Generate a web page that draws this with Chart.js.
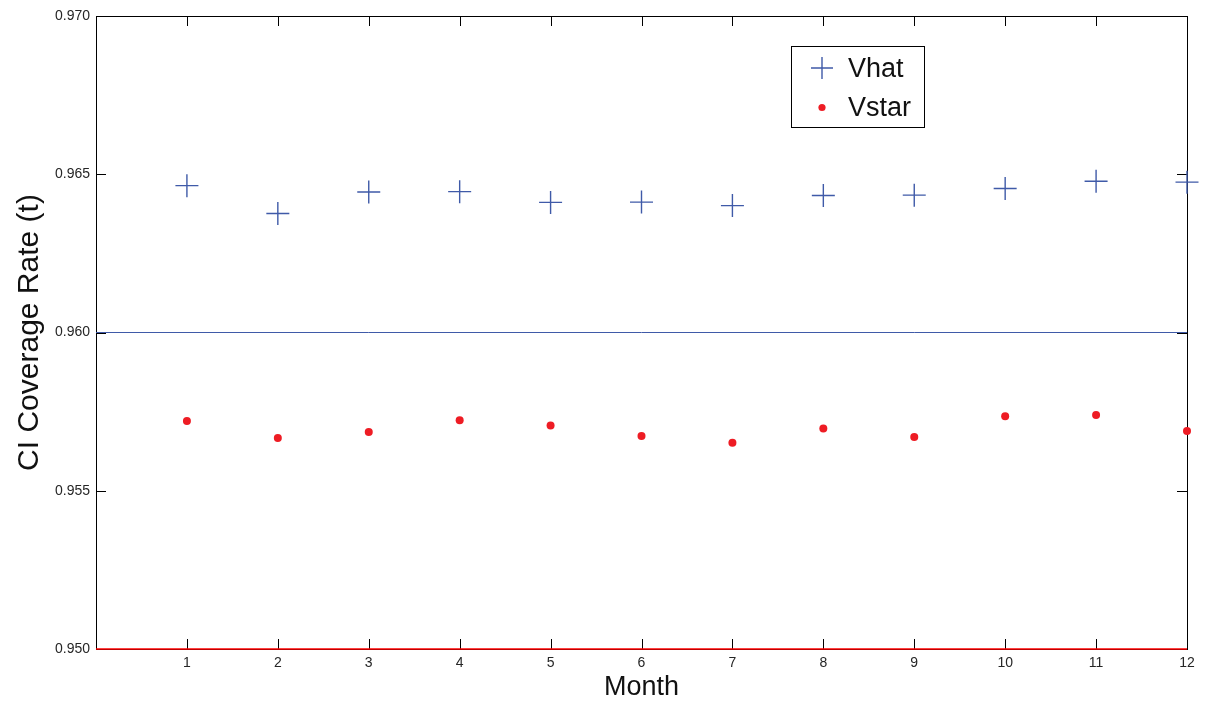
<!DOCTYPE html>
<html>
<head>
<meta charset="utf-8">
<script src="https://cdn.jsdelivr.net/npm/chart.js@4"></script>
<style>
  html, body { margin: 0; padding: 0; background: #ffffff; }
  #wrap { width: 1214px; height: 704px; }
</style>
</head>
<body>
<div id="wrap"><canvas id="c" width="1214" height="704"></canvas></div>
<script>
const months = [1, 2, 3, 4, 5, 6, 7, 8, 9, 10, 11, 12];
const vhat = [0.96464, 0.96376, 0.96444, 0.96445, 0.96411, 0.96412, 0.96401, 0.96433, 0.96434, 0.96455, 0.96478, 0.96475];
const vstar = [0.95720, 0.95667, 0.95686, 0.95723, 0.95706, 0.95673, 0.95652, 0.95697, 0.95670, 0.95735, 0.95739, 0.95689];
const refLevels = [0.960, 0.950];
const xRange = [0, 12];
const yRange = [0.950, 0.970];
const yStep = 0.005;

const BLUE = '#3f5aa8';
const RED = '#ee1c24';
const FONT = '"Liberation Sans", Arial, Helvetica, sans-serif';

const pts = (xs, ys) => xs.map((x, i) => ({ x: x, y: ys[i] }));

const framePlugin = {
  id: 'frame',
  beforeDatasetsDraw(chart) {
    const { ctx, chartArea: a, scales } = chart;
    ctx.save();
    ctx.strokeStyle = '#000000';
    ctx.lineWidth = 1;
    ctx.strokeRect(Math.round(a.left) + 0.5, Math.round(a.top) + 0.5, Math.round(a.right - a.left), Math.round(a.bottom - a.top));
    const tl = 10;
    ctx.beginPath();
    scales.x.ticks.forEach(t => {
      if (t.value <= xRange[0] || t.value >= xRange[1]) return;
      const px = Math.round(scales.x.getPixelForValue(t.value)) + 0.5;
      ctx.moveTo(px, a.bottom); ctx.lineTo(px, a.bottom - tl);
      ctx.moveTo(px, a.top); ctx.lineTo(px, a.top + tl);
    });
    scales.y.ticks.forEach(t => {
      const py = Math.round(scales.y.getPixelForValue(t.value)) + 0.5;
      ctx.moveTo(a.left, py); ctx.lineTo(a.left + tl, py);
      ctx.moveTo(a.right, py); ctx.lineTo(a.right - tl, py);
    });
    ctx.stroke();
    ctx.restore();
  }
};

const legendPlugin = {
  id: 'boxLegend',
  afterDraw(chart) {
    const { ctx } = chart;
    const ds = chart.data.datasets;
    const bx = 791.5, by = 46.5, bw = 133, bh = 81;
    ctx.save();
    ctx.fillStyle = '#ffffff';
    ctx.fillRect(bx, by, bw, bh);
    ctx.strokeStyle = '#000000';
    ctx.lineWidth = 1;
    ctx.strokeRect(bx, by, bw, bh);
    const cx = 822, cy1 = 68, cy2 = 107.5;
    ctx.strokeStyle = ds[0].borderColor;
    ctx.lineWidth = 1.4;
    ctx.beginPath();
    ctx.moveTo(cx - 11, cy1); ctx.lineTo(cx + 11, cy1);
    ctx.moveTo(cx, cy1 - 11); ctx.lineTo(cx, cy1 + 11);
    ctx.stroke();
    ctx.fillStyle = ds[1].backgroundColor;
    ctx.beginPath();
    ctx.arc(cx, cy2, 3.6, 0, Math.PI * 2);
    ctx.fill();
    ctx.fillStyle = '#111111';
    ctx.font = '27px ' + FONT;
    ctx.textBaseline = 'middle';
    ctx.textAlign = 'left';
    ctx.fillText(ds[0].label, 848, cy1 + 2);
    ctx.fillText(ds[1].label, 848, cy2 + 1);
    ctx.restore();
  }
};

new Chart(document.getElementById('c'), {
  type: 'scatter',
  data: {
    datasets: [
      {
        label: 'Vhat',
        data: pts(months, vhat),
        pointStyle: 'cross',
        pointRadius: 11.5,
        pointHoverRadius: 11.5,
        borderColor: BLUE,
        backgroundColor: BLUE,
        pointBorderWidth: 1.4,
        showLine: false,
        clip: false,
        order: 1
      },
      {
        label: 'Vstar',
        data: pts(months, vstar),
        pointStyle: 'circle',
        pointRadius: 4,
        pointHoverRadius: 4,
        backgroundColor: RED,
        borderColor: RED,
        pointBorderWidth: 0,
        showLine: false,
        clip: false,
        order: 2
      },
      {
        type: 'line',
        label: 'ref960',
        data: pts(xRange, [refLevels[0], refLevels[0]]),
        borderColor: BLUE,
        borderWidth: 1,
        pointRadius: 0,
        fill: false,
        order: 3
      },
      {
        type: 'line',
        label: 'ref950',
        data: pts(xRange, [refLevels[1], refLevels[1]]),
        borderColor: '#ff0000',
        borderWidth: 1.6,
        pointRadius: 0,
        fill: false,
        clip: false,
        order: 4
      }
    ]
  },
  options: {
    responsive: false,
    animation: false,
    events: [],
    layout: { padding: { top: 16, right: 27, left: 0, bottom: 0 } },
    plugins: {
      legend: { display: false },
      tooltip: { enabled: false }
    },
    scales: {
      x: {
        type: 'linear',
        min: xRange[0],
        max: xRange[1],
        afterFit: s => { s.height = 55; },
        grid: { display: false, drawTicks: false },
        border: { display: false },
        ticks: {
          stepSize: 1,
          padding: 6,
          color: '#262626',
          font: { family: FONT, size: 14 },
          callback: v => (v === 0 ? '' : String(v))
        },
        title: {
          display: true,
          text: 'Month',
          color: '#111111',
          font: { family: FONT, size: 27 },
          padding: { top: 2, bottom: 0 }
        }
      },
      y: {
        type: 'linear',
        min: yRange[0],
        max: yRange[1],
        afterFit: s => { s.width = 96; },
        grid: { display: false, drawTicks: false },
        border: { display: false },
        ticks: {
          stepSize: yStep,
          padding: 6,
          color: '#262626',
          font: { family: FONT, size: 14 },
          callback: v => Number(v).toFixed(3)
        },
        title: {
          display: true,
          text: 'CI Coverage Rate (t)',
          color: '#111111',
          font: { family: FONT, size: 30 },
          padding: { top: 12, bottom: 0 }
        }
      }
    }
  },
  plugins: [framePlugin, legendPlugin]
});
</script>
</body>
</html>
